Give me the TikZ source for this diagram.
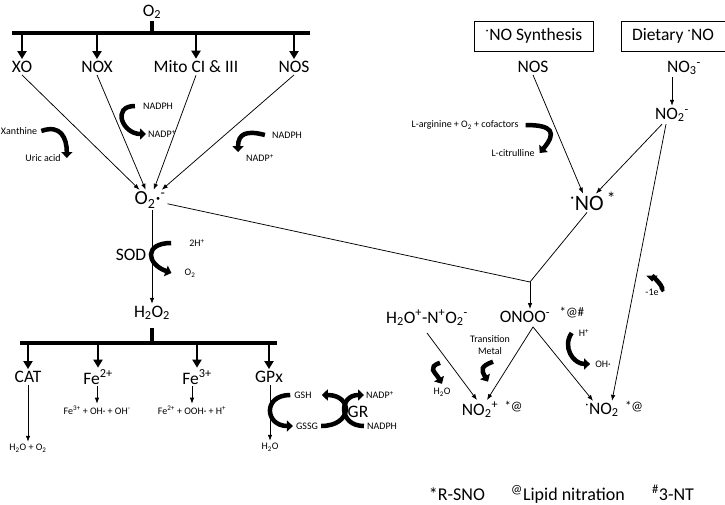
\documentclass[tikz,border=0pt]{standalone}
\usepackage{fontspec}
\setmainfont{Carlito}
\usetikzlibrary{arrows.meta,positioning}

\begin{document}
\begin{tikzpicture}[x=1pt,y=-1pt,every node/.style={inner sep=2pt},
    lab/.style={font=\fontsize{17.5}{19}\selectfont},
    biglab/.style={font=\fontsize{20}{22}\selectfont},
    nolab/.style={font=\fontsize{22}{24}\selectfont},
    leg/.style={font=\fontsize{18}{20}\selectfont},
    sml/.style={font=\fontsize{10}{12}\selectfont},
    tagtxt/.style={font=\fontsize{13}{14}\selectfont},
    titlebox/.style={draw,line width=0.8pt,lab,inner xsep=11pt,minimum height=30pt},
    barline/.style={line width=4pt},
    fat/.style={line width=2.5pt,-{Triangle[length=8pt,width=9pt]}},
    thinarrow/.style={line width=0.75pt,-{Latex[length=6pt,width=4.5pt]}},
    thinline/.style={line width=0.75pt},
    curl/.style={line width=4.5pt,-{Triangle[length=6pt,width=11pt]}}]
    \useasboundingbox (0,0) rectangle (725,504);

    \node[lab] (o2) at (152,12) {O\textsubscript{2}};
    \coordinate (top) at (152,33);
    \draw[barline] (12,33) -- (310,33);
    \draw[barline] (o2.south) -- (top);
    \node[lab] (xo) at (22,67) {XO};
    \node[lab] (nox) at (97,67) {NOX};
    \node[lab] (mito) at (196,67) {Mito CI \& III};
    \node[lab] (nosa) at (294,67) {NOS};
    \node[biglab] (sup) at (150,200) {O\textsubscript{2}·\textsuperscript{-}};
    \foreach \n in {xo,nox,mito,nosa}{
        \draw[fat] (top -| \n) -- (\n.north);
        \draw[thinarrow] (\n.south) -- (sup);
    }

    \node[sml] (xan) at (19,131) {Xanthine};
    \node[sml] (uric) at (43,158) {Uric acid};
    \draw[curl] ([xshift=2pt]xan.east) to[out=20,in=90,looseness=1.4] ([xshift=4pt]uric.east);
    \node[sml] (nadpha) at (158,106) {NADPH};
    \node[sml] (nadpa) at (162,134) {NADP\textsuperscript{+}};
    \draw[curl] ([xshift=-6pt]nadpha.west) to[out=180,in=180,looseness=2] (nadpa.west);
    \node[sml] (nadphb) at (287,135) {NADPH};
    \node[sml] (nadpb) at (260,158) {NADP\textsuperscript{+}};
    \draw[curl] ([xshift=-5pt]nadphb.west) to[out=165,in=90,looseness=1.5] ([xshift=-6pt]nadpb.north west);

    \node[lab] (h2o2) at (152,313) {H\textsubscript{2}O\textsubscript{2}};
    \draw[thinarrow] (h2o2 |- sup.south) -- (h2o2.north);
    \node[lab] (sod) at (131,255) {SOD};
    \node[sml] (hp) at (197,243) {2H\textsuperscript{+}};
    \node[sml] (o2s) at (190,273) {O\textsubscript{2}};
    \draw[curl] ([xshift=-16pt]hp.west) to[out=180,in=160,looseness=2.3] ([xshift=-11pt]o2s.west);

    \coordinate (bot) at (152,343);
    \draw[barline] (20,343) -- (277,343);
    \draw[barline] ([yshift=-6pt]h2o2.south) -- (bot);
    \node[lab] (cat) at (28,377) {CAT};
    \node[lab] (fea) at (98,377) {Fe\textsuperscript{2+}};
    \node[lab] (feb) at (197,377) {Fe\textsuperscript{3+}};
    \node[lab] (gpx) at (269,377) {GPx};
    \foreach \n in {cat,fea,feb,gpx}
        \draw[fat] (bot -| \n) -- (\n.north);
    \node[sml] (catp) at (28,448) {H\textsubscript{2}O + O\textsubscript{2}};
    \node[sml] (feap) at (97,410) {Fe\textsuperscript{3+} + OH· + OH\textsuperscript{-}};
    \node[sml] (febp) at (192,410) {Fe\textsuperscript{2+} + OOH· + H\textsuperscript{+}};
    \node[sml] (gpxp) at (270,447) {H\textsubscript{2}O};
    \draw[thinarrow] (catp |- cat.south) -- (catp.north);
    \draw[thinarrow] (feap |- fea.south) -- (feap.north);
    \draw[thinarrow] (febp |- feb.south) -- (febp.north);
    \draw[thinarrow] (gpxp |- gpx.south) -- (gpxp.north);

    \node[sml] (gsh) at (303,395) {GSH};
    \node[sml] (gssg) at (307,426) {GSSG};
    \node[lab] (gr) at (358,412) {GR};
    \node[sml] (nadpc) at (380,395) {NADP\textsuperscript{+}};
    \node[sml] (nadphc) at (382,426) {NADPH};
    \draw[curl] ([xshift=-2pt]gsh.west) to[out=180,in=180,looseness=2.3] ([xshift=-1pt]gssg.west);
    \draw[curl] ([xshift=1pt]gssg.east) to[out=0,in=0,looseness=2.6] ([xshift=8pt]gsh.east);
    \draw[curl] ([xshift=-1pt]nadphc.west) to[out=180,in=180,looseness=2.1] (nadpc.west);

    \node[titlebox] (synth) at (534,36) {\textsuperscript{·}NO Synthesis};
    \node[titlebox] (diet) at (673,36) {Dietary \textsuperscript{·}NO};
    \node[lab] (nosb) at (533,67) {NOS};
    \node[lab] (no3) at (684,68) {NO\textsubscript{3}\textsuperscript{-}};
    \node[lab] (no2) at (672,115) {NO\textsubscript{2}\textsuperscript{-}};
    \draw[thinarrow] (no2 |- no3.south) -- (no2.north);
    \node[nolab] (no) at (587,203) {\textsuperscript{·}NO};
    \node[lab,right=-1pt of no,yshift=5pt] (nostar) {*};
    \draw[thinarrow] (nosb.south) -- (no);
    \draw[thinarrow] ([xshift=-10pt]no2.south) -- (no);
    \node[sml] (larg) at (465,125) {L-arginine + O\textsubscript{2} + cofactors};
    \node[sml] (lcit) at (513,153) {L-citrulline};
    \draw[curl] ([xshift=5pt]larg.east) to[out=0,in=50,looseness=2.2] ([xshift=3pt]lcit.east);

    \coordinate (jn) at (530,282);
    \draw[thinline] (sup) -- (jn);
    \draw[thinline] (no.south) -- (jn);
    \node[lab] (onoo) at (525,317) {ONOO\textsuperscript{-}};
    \node[tagtxt,right=5pt of onoo,yshift=4pt] (taga) {*@\#};
    \draw[thinarrow] (jn) -- (jn |- onoo.north);
    \node[lab] (h2on) at (427,318) {H\textsubscript{2}O\textsuperscript{+}-N\textsuperscript{+}O\textsubscript{2}\textsuperscript{-}};
    \node[lab] (no2p) at (480,410) {NO\textsubscript{2}\textsuperscript{+}};
    \node[tagtxt,right=2pt of no2p,yshift=3pt] (tagb) {*@};
    \node[lab] (no2r) at (602,410) {\textsuperscript{·}NO\textsubscript{2}};
    \node[tagtxt,right=2pt of no2r,yshift=3pt] (tagc) {*@};
    \coordinate (apex) at ([xshift=8pt,yshift=-2pt]onoo.south);
    \draw[thinarrow] ([yshift=-5pt]h2on.south) -- ([xshift=-3pt]no2p.north);
    \draw[thinarrow] (apex) -- ([xshift=7pt]no2p.north);
    \draw[thinarrow] (apex) -- ([xshift=-9pt]no2r.north);
    \draw[thinarrow] ([xshift=-6pt]no2.south) -- ([xshift=10pt]no2r.north);

    \node[sml] (mone) at (652,292) {-1e};
    \draw[curl] ([shift={(-10,-35)}]mone) to[out=10,in=90,looseness=1.3] ([yshift=5pt]mone.north);
    \node[sml,align=center] (tm) at (490,345) {Transition\\Metal};
    \draw[curl] ([shift={(3,5)}]tm.south) to[out=200,in=120,looseness=1.7] ([shift={(-2,25)}]tm.south);
    \node[sml] (h2ob) at (442,392) {H\textsubscript{2}O};
    \draw[curl] ([shift={(-2,-23)}]h2ob.north) to[out=200,in=120,looseness=1.7] ([yshift=2pt]h2ob.north);
    \node[sml] (hplus) at (584,333) {H\textsuperscript{+}};
    \node[sml] (ohr) at (603,364) {OH·};
    \draw[curl] ([xshift=-5pt]hplus.west) to[out=235,in=180,looseness=1.2] ([xshift=-3pt]ohr.west);

    \node[leg,anchor=base] (lega) at (457,500) {*R-SNO};
    \node[leg,anchor=base] (legb) at (568,500) {\textsuperscript{@}Lipid nitration};
    \node[leg,anchor=base] (legc) at (673,500) {\textsuperscript{\#}3-NT};
\end{tikzpicture}
\end{document}
